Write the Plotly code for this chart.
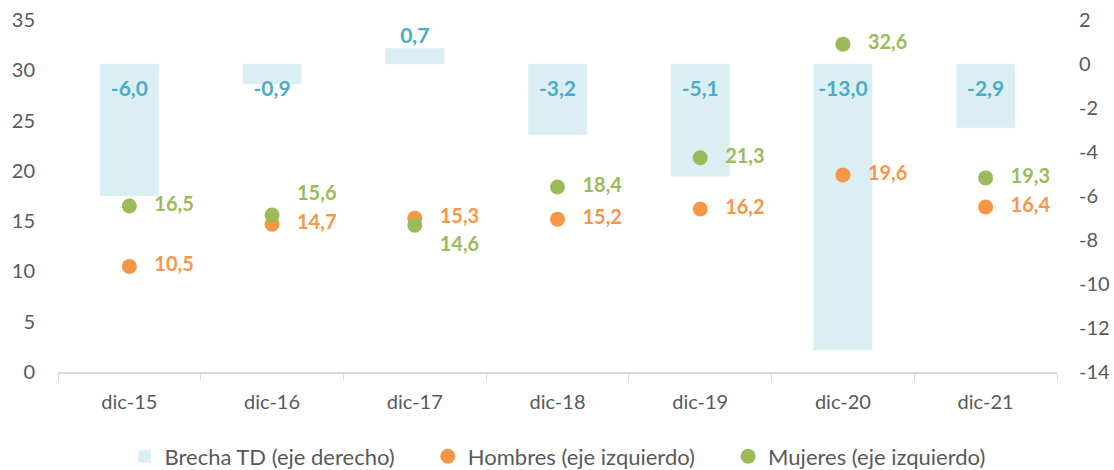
import plotly.graph_objects as go

categories = ["dic-15", "dic-16", "dic-17", "dic-18", "dic-19", "dic-20", "dic-21"]
brecha = [-6.0, -0.9, 0.7, -3.2, -5.1, -13.0, -2.9]
hombres = [10.5, 14.7, 15.3, 15.2, 16.2, 19.6, 16.4]
mujeres = [16.5, 15.6, 14.6, 18.4, 21.3, 32.6, 19.3]
left_ticks = [0, 5, 10, 15, 20, 25, 30, 35]
right_ticks = [-14, -12, -10, -8, -6, -4, -2, 0, 2]

def fmt(v):
    return f"{v:.1f}".replace(".", ",")

FONT = "Lato"
BAR_C = "#DAEEF3"
BAR_TXT = "#4BACC6"
ORANGE = "#F79646"
GREEN = "#9BBB59"
GREY = "#595959"
PAD = "\u00a0" * 5
LPAD = "\u00a0" * 3

fig = go.Figure()

# bars on primary axis (right side) so markers draw above them
fig.add_trace(go.Bar(
    x=categories, y=brecha, yaxis="y", name="Brecha TD (eje derecho)" + PAD,
    marker=dict(color=BAR_C), width=0.41, hoverinfo="skip",
))
fig.add_trace(go.Scatter(
    x=categories, y=[(-1.2 if v < 0 else v + 0.5) for v in brecha], yaxis="y",
    mode="text", text=[fmt(v) for v in brecha], showlegend=False,
    textfont=dict(family=FONT, size=21, color=BAR_TXT, weight="bold"),
    textposition="middle center", hoverinfo="skip",
))

h_pos = ["middle right"] * 7
m_pos = ["middle right"] * 7
m_pos[1] = "top right"
m_pos[2] = "bottom right"

fig.add_trace(go.Scatter(
    x=categories, y=hombres, yaxis="y2", name="Hombres (eje izquierdo)" + PAD, mode="markers+text",
    marker=dict(color=ORANGE, size=15), text=[LPAD + fmt(v) for v in hombres],
    textposition=h_pos, textfont=dict(family=FONT, size=20, color=ORANGE, weight="bold"),
))
fig.add_trace(go.Scatter(
    x=categories, y=mujeres, yaxis="y2", name="Mujeres (eje izquierdo)", mode="markers+text",
    marker=dict(color=GREEN, size=15), text=[LPAD + fmt(v) for v in mujeres],
    textposition=m_pos, textfont=dict(family=FONT, size=20, color=GREEN, weight="bold"),
))

fig.update_layout(
    width=1114, height=470,
    margin=dict(l=58, r=57, t=20, b=98, autoexpand=False),
    paper_bgcolor="white", plot_bgcolor="white",
    font=dict(family=FONT, size=20, color=GREY),
    xaxis=dict(
        type="category", showgrid=False, showline=True, linecolor="#D9D9D9", linewidth=1.5,
        ticks="outside", tickson="boundaries", ticklen=7, tickcolor="#D9D9D9",
        tickfont=dict(size=20, color=GREY), range=[-0.5, 6.5], automargin=False,
        ticklabelstandoff=11,
    ),
    yaxis=dict(
        range=[-14, 2], tickvals=right_ticks, ticktext=[str(v) for v in right_ticks],
        side="right", showgrid=False, zeroline=False, showline=False,
        tickfont=dict(size=20, color=GREY), ticklabelstandoff=21, automargin=False,
    ),
    yaxis2=dict(
        range=[0, 35], tickvals=left_ticks, ticktext=[str(v) for v in left_ticks],
        overlaying="y", side="left", showgrid=False, zeroline=False, showline=False,
        tickfont=dict(size=20, color=GREY), ticklabelstandoff=22, automargin=False,
    ),
    legend=dict(
        orientation="h", x=0.5, xanchor="center", y=-0.24, yanchor="middle",
        font=dict(size=22, color=GREY), itemwidth=30, traceorder="normal",
    ),
)

fig.write_html(
    "out.html",
    config={"displayModeBar": False},
    post_script="document.body.style.margin='0';document.body.style.overflow='hidden';",
)
